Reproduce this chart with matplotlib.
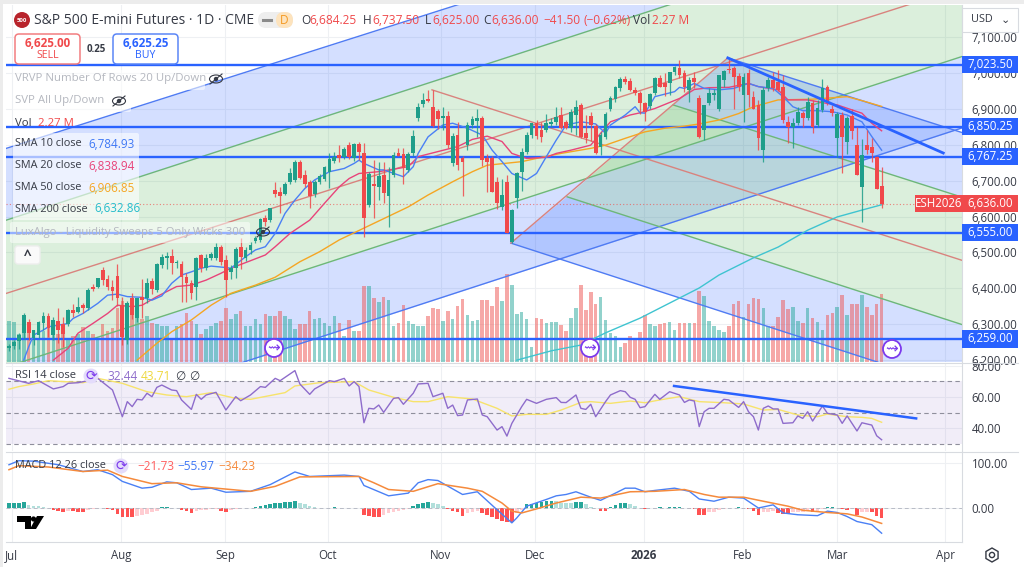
#!/usr/bin/env python

import matplotlib

matplotlib.use("Agg")
import matplotlib.pyplot as plt
from matplotlib.patches import Circle, Ellipse, FancyBboxPatch, Polygon, Rectangle, RegularPolygon

plt.rcParams["font.family"] = ["Open Sans", "DejaVu Sans"]

# candles, one value per daily bar
opens = [
    6235, 6240, 6252, 6275, 6307, 6261, 6270, 6304, 6323, 6270,
    6309, 6302, 6301, 6341, 6335, 6353, 6344, 6405, 6405, 6451,
    6425, 6405, 6435, 6354, 6256, 6372, 6316, 6377, 6372, 6421,
    6395, 6465, 6485, 6490, 6471, 6468, 6432, 6414, 6405, 6493,
    6456, 6484, 6484, 6516, 6478, 6446, 6458, 6514, 6484, 6507,
    6533, 6535, 6597, 6590, 6674, 6669, 6664, 6697, 6702, 6751,
    6716, 6697, 6662, 6697, 6706, 6725, 6755, 6771, 6767, 6799,
    6764, 6801, 6778, 6632, 6691, 6681, 6716, 6658, 6716, 6778,
    6774, 6730, 6776, 6874, 6913, 6927, 6906, 6895, 6875, 6881,
    6748, 6827, 6764, 6799, 6855, 6865, 6874, 6762, 6762, 6695,
    6627, 6697, 6530, 6651, 6725, 6781, 6827, 6860, 6841, 6841,
    6858, 6864, 6883, 6864, 6846, 6883, 6911, 6832, 6881, 6852,
    6795, 6822, 6901, 6927, 6957, 6983, 6979, 6953, 6945, 6915,
    6908, 6943, 6985, 6971, 6971, 7004, 7013, 6999, 6953, 6985,
    6931, 6841, 6915, 6939, 6901, 6980, 7010, 7013, 6992, 6939,
    7000, 6934, 6911, 6785, 6957, 6981, 6976, 6962, 6864, 6849,
    6860, 6888, 6874, 6915, 6855, 6897, 6962, 6899, 6818, 6883,
    6809, 6880, 6799, 6683, 6799, 6795, 6767, 6684.25,
]
highs = [
    6245, 6255, 6275, 6330, 6315, 6285, 6310, 6335, 6330, 6320,
    6344, 6320, 6342, 6356, 6375, 6358, 6400, 6412, 6430, 6459,
    6437, 6423, 6468, 6375, 6365, 6386, 6374, 6425, 6428, 6428,
    6470, 6497, 6502, 6509, 6479, 6477, 6442, 6423, 6486, 6497,
    6497, 6502, 6525, 6520, 6492, 6465, 6515, 6540, 6515, 6530,
    6545, 6595, 6605, 6625, 6697, 6683, 6695, 6734, 6757, 6757,
    6730, 6702, 6702, 6718, 6740, 6776, 6781, 6799, 6795, 6809,
    6805, 6809, 6804, 6725, 6757, 6753, 6753, 6739, 6781, 6790,
    6790, 6781, 6841, 6915, 6943, 6953, 6953, 6900, 6905, 6895,
    6832, 6864, 6770, 6864, 6880, 6899, 6880, 6775, 6770, 6710,
    6706, 6715, 6620, 6725, 6790, 6835, 6862, 6868, 6864, 6885,
    6875, 6906, 6906, 6870, 6900, 6925, 6915, 6883, 6890, 6858,
    6835, 6890, 6935, 6965, 6990, 6992, 6985, 6960, 6950, 6920,
    6945, 6988, 6995, 7000, 7004, 7020, 7036, 7008, 6990, 7004,
    6940, 6911, 6957, 6955, 6994, 7008, 7041, 7020, 7000, 7001,
    7010, 6950, 6925, 6960, 6990, 7004, 7008, 6995, 6880, 6875,
    6906, 6895, 6934, 6925, 6925, 6982, 6967, 6911, 6890, 6892,
    6880, 6899, 6849, 6815, 6841, 6820, 6770, 6737.5,
]
lows = [
    6225, 6230, 6230, 6260, 6255, 6242, 6262, 6285, 6265, 6256,
    6247, 6237, 6295, 6320, 6332, 6330, 6340, 6393, 6402, 6410,
    6395, 6367, 6350, 6242, 6245, 6315, 6305, 6316, 6360, 6385,
    6390, 6456, 6453, 6440, 6456, 6363, 6363, 6370, 6367, 6445,
    6450, 6478, 6478, 6465, 6377, 6425, 6430, 6455, 6475, 6495,
    6525, 6530, 6575, 6585, 6655, 6611, 6660, 6690, 6697, 6705,
    6683, 6625, 6655, 6690, 6700, 6680, 6750, 6753, 6760, 6760,
    6755, 6758, 6544, 6628, 6595, 6646, 6637, 6572, 6710, 6768,
    6692, 6725, 6770, 6866, 6905, 6918, 6850, 6845, 6840, 6790,
    6740, 6730, 6657, 6785, 6848, 6822, 6740, 6669, 6669, 6620,
    6618, 6553, 6525, 6625, 6672, 6775, 6820, 6815, 6808, 6835,
    6850, 6855, 6845, 6845, 6835, 6828, 6818, 6805, 6810, 6775,
    6772, 6815, 6895, 6920, 6950, 6970, 6950, 6940, 6885, 6865,
    6900, 6938, 6960, 6935, 6940, 6995, 6985, 6948, 6920, 6957,
    6820, 6813, 6910, 6925, 6895, 6960, 7000, 6901, 6950, 6864,
    6905, 6900, 6785, 6753, 6950, 6950, 6950, 6860, 6805, 6790,
    6855, 6849, 6870, 6832, 6850, 6890, 6910, 6880, 6767, 6720,
    6775, 6815, 6716, 6586, 6775, 6753, 6676, 6625,
]
closes = [
    6240, 6250, 6270, 6326, 6275, 6284, 6307, 6323, 6289, 6312,
    6284, 6273, 6341, 6332, 6347, 6344, 6395, 6397, 6428, 6423,
    6405, 6393, 6372, 6265, 6358, 6326, 6372, 6367, 6414, 6397,
    6468, 6488, 6491, 6470, 6474, 6432, 6414, 6386, 6484, 6456,
    6484, 6497, 6516, 6474, 6423, 6458, 6511, 6488, 6507, 6521,
    6539, 6592, 6586, 6623, 6664, 6658, 6692, 6722, 6753, 6708,
    6690, 6658, 6697, 6714, 6737, 6760, 6767, 6762, 6787, 6767,
    6801, 6781, 6595, 6718, 6686, 6713, 6666, 6702, 6771, 6770,
    6734, 6773, 6825, 6906, 6925, 6923, 6852, 6872, 6881, 6799,
    6825, 6743, 6753, 6855, 6871, 6874, 6757, 6753, 6669, 6637,
    6660, 6553, 6618, 6720, 6781, 6827, 6860, 6825, 6822, 6860,
    6864, 6878, 6846, 6846, 6890, 6906, 6822, 6818, 6855, 6776,
    6827, 6887, 6929, 6960, 6983, 6974, 6953, 6943, 6915, 6892,
    6941, 6985, 6962, 6960, 7004, 7016, 6994, 6962, 6980, 6974,
    6822, 6911, 6943, 6945, 6994, 7006, 7008, 6990, 6962, 6990,
    6939, 6901, 6818, 6953, 6981, 6957, 6953, 6869, 6849, 6860,
    6892, 6874, 6920, 6849, 6902, 6957, 6915, 6888, 6886, 6823,
    6874, 6837, 6716, 6771, 6785, 6778, 6677.5, 6636,
]
volume_m = [
    1.37, 1.34, .92, 1.54, .98, .92, .81, 1.04, 1.31, 1.26,
    .92, .98, .81, .87, .92, 1.17, 1.04, .95, .81, 1.26,
    1.04, 1.15, 1.81, 2.04, 1.93, 1.93, 1.48, 1.42, 1.54, 1.31,
    1.26, 1.20, 1.20, .81, 1.20, 1.26, 1.65, 1.37, 1.26, .92,
    1.09, 1.20, 1.31, 1.37, 1.81, 1.42, 1.59, 1.70, 1.20, 1.20,
    1.42, 1.26, 1.59, 1.54, 1.54, 1.70, 1.54, 1.42, 1.09, 1.26,
    1.26, 1.70, 1.42, 1.48, 1.31, 1.20, 1.54, 1.31,
    .86, 1.41, 1.05, 1.05, 2.55, 2.55, 2.14, 2.00, 2.17, 2.06,
    1.21, 1.30, 1.89, 1.36, 1.27, 1.19, 1.21, 1.52, 1.80, 1.77,
    1.36, 1.69, 1.45, 1.86, 2.10, 1.58, 1.36, 1.39, 2.08, 2.08,
    1.86, 2.49, 2.05, 2.95, 2.58, 1.60, 1.66, 1.45, .49, 1.47,
    1.45, 1.30, 1.32, 1.34, 1.25, 1.02, 1.47, 1.80, 2.58, 1.75,
    2.33, 1.94, 2.16, 1.40, .97, .88, .49, .63, .88, .78,
    .99, 1.56, 1.27, 1.19, 1.27, 1.30, 1.34, 1.07, 1.30,
    1.30, 1.30, 1.30, 2.38, 2.19, 1.36, 1.21, 1.08, .99, 1.19,
    1.94, 2.05, 1.49, 1.94, 2.14, 2.10, 1.80, 1.19, 1.19, 1.49,
    2.07, 1.78, 1.83, 1.36, 1.30, 1.80, 1.47, 1.34, 1.08, 1.56,
    1.64, 1.84, 2.25, 1.56, 1.95, 1.95, 2.25, 1.83, 1.56, 1.94, 2.27,
]
macd_hist = [
    11, 11, 12, 13, 7, 5, 4, 2, 1, -4,
    -7, -8, -6, -7, -8, -8, -5, -3, -2, -1,
    -3, -5, -14, -20, -21, -21, -17, -15, -13, -10,
    -6, 2, 3, 1, -1, -4, -7, -11, -6, -5,
    -4, -3, -2, -7, -9, -4, -3, -2, -1, 1,
    3, 5, 6, 8, 10, 12, 13, 14, 15, 12,
    9, 5, 2, 1, 1, 1, 2, 1, 1, 1,
    1, -1, -15, -18, -19, -20, -15, -11, -8, -7,
    -5, -2, 4, 8, 12, 13, 10, 8, 5, -3,
    -7, -10, -17, -11, -8, -6, -12, -15, -19, -24,
    -28, -31, -32, -12, -4, 8, 9, 11, 14, 15,
    16, 15, 12, 11, 10, 14, 14, 8, 2, 1,
    -6, -6, 3, 7, 10, 11, 9, 4, 1, -2,
    -1, 1, 2, 1, 2, 3, 3, 1, -2, -3,
    -15, -15, -10, -8, -5, -2, -1, 1, 2, -2,
    -3, -6, -16, -10, -9, -7, -11, -13, -14, -10,
    -9, -8, -5, -10, -6, -3, 2, 2, -1, -3,
    -5, -2, -15, -10, -8, -8, -18, -21.73,
]
assert all(len(s) == 178 for s in (opens, highs, lows, closes, volume_m, macd_hist))

# moving averages, read at the bends of each line
sma10_bar = [3, 4, 5, 7, 8, 12, 13, 15, 18, 20, 22, 24, 27, 29, 31, 33, 35, 37, 39, 41, 44, 45, 48, 50, 52, 54, 56,
             58, 60, 62, 65, 68, 70, 71, 72, 75, 76, 80, 82, 83, 85, 88, 90, 93, 96, 98, 100, 102, 105, 107, 109,
             111, 113, 116, 119, 121, 122, 125, 127, 128, 129, 131, 135, 136, 137, 139, 141, 144, 147, 150, 152,
             155, 157, 159, 161, 164, 167, 170, 173, 175, 177]
sma10_val = [6200, 6237, 6270, 6284, 6293, 6302, 6316, 6330, 6358, 6381, 6384, 6377, 6375, 6367, 6379, 6414, 6437,
             6446, 6456, 6462, 6458, 6456, 6488, 6507, 6516, 6553, 6609, 6646, 6678, 6702, 6725, 6734, 6748, 6757,
             6748, 6730, 6730, 6711, 6739, 6776, 6822, 6855, 6860, 6846, 6827, 6785, 6753, 6720, 6702, 6720, 6767,
             6813, 6855, 6864, 6858, 6832, 6855, 6883, 6906, 6889, 6888, 6934, 6948, 6960, 6957, 6971, 6957, 6953,
             6957, 6971, 6962, 6957, 6934, 6906, 6895, 6895, 6892, 6883, 6864, 6823, 6784.93]
sma20_bar = [9, 12, 14, 17, 20, 22, 25, 27, 30, 34, 37, 40, 43, 45, 49, 52, 54, 57, 61, 64, 67, 69, 71, 75, 81, 83,
             87, 91, 94, 97, 100, 102, 105, 109, 111, 114, 118, 120, 122, 126, 128, 131, 136, 139, 142, 146, 150,
             152, 156, 158, 162, 166, 168, 171, 173, 175, 177]
sma20_val = [6200, 6233, 6275, 6302, 6330, 6353, 6349, 6353, 6377, 6405, 6409, 6423, 6442, 6456, 6477, 6493, 6516,
             6553, 6590, 6637, 6683, 6706, 6720, 6725, 6739, 6767, 6781, 6795, 6815, 6824, 6809, 6776, 6762, 6765,
             6776, 6785, 6799, 6832, 6864, 6883, 6889, 6901, 6929, 6954, 6959, 6960, 6971, 6962, 6953, 6925, 6925,
             6915, 6911, 6897, 6888, 6860, 6838.94]
sma50_bar = [26, 30, 33, 37, 41, 45, 50, 54, 59, 63, 67, 74, 81, 85, 90, 94, 97, 104, 108, 112, 118, 121, 125, 129,
             133, 137, 140, 144, 148, 151, 156, 163, 170, 173, 177]
sma50_val = [6200, 6247, 6279, 6312, 6353, 6386, 6409, 6431, 6474, 6502, 6535, 6581, 6627, 6660, 6697, 6725, 6743,
             6753, 6765, 6776, 6790, 6799, 6818, 6836, 6846, 6852, 6858, 6869, 6887, 6906, 6925, 6927, 6934, 6923,
             6906.85]
sma200_bar = [103, 110, 116, 121, 128, 136, 140, 144, 151, 156, 162, 168, 173, 177]
sma200_val = [6200, 6226, 6242, 6276, 6317, 6373, 6401, 6437, 6485, 6515, 6562, 6599, 6618, 6632.86]

# RSI pane
rsi_bar = [0, 4, 6, 9, 11, 12, 14, 16, 18, 21, 23, 24, 25, 26, 27, 28, 29, 30, 31, 33, 34, 35, 37, 38, 39, 40, 42,
           44, 46, 47, 49, 51, 52, 54, 55, 58, 59, 61, 62, 65, 66, 68, 69, 70, 71, 72, 73, 74, 75, 76, 78, 79, 80,
           82, 83, 85, 86, 88, 89, 90, 91, 92, 93, 95, 96, 97, 99, 100, 101, 102, 104, 105, 107, 109, 111, 112,
           113, 115, 116, 117, 118, 119, 121, 122, 124, 125, 126, 127, 128, 129, 131, 132, 134, 136, 137, 138,
           139, 140, 141, 142, 143, 145, 146, 148, 149, 150, 151, 152, 153, 154, 155, 156, 157, 159, 160, 161,
           162, 163, 165, 166, 168, 169, 170, 172, 173, 175, 176, 177]
rsi_val = [72.0, 68.8, 70.5, 65.2, 66.7, 68.8, 69.2, 70.5, 72.0, 64.5, 47.3, 57.0, 53.8, 58.5, 58.1, 62.4, 60.2,
           66.2, 67.7, 64.5, 64.1, 58.1, 52.0, 61.7, 58.5, 61.3, 63.0, 51.6, 60.2, 57.6, 61.3, 66.7, 66.2, 72.0,
           70.5, 77.0, 68.4, 61.7, 65.2, 70.5, 69.9, 72.0, 67.1, 69.9, 66.7, 43.4, 52.7, 52.3, 54.8, 50.1, 59.1,
           59.6, 55.3, 62.4, 68.4, 68.8, 60.2, 62.4, 52.7, 54.8, 48.0, 48.4, 58.1, 58.7, 48.4, 47.3, 38.7, 40.9,
           34.8, 43.0, 53.8, 58.5, 55.9, 58.5, 59.6, 56.5, 56.4, 61.3, 52.7, 52.0, 55.3, 47.3, 57.0, 61.3, 64.1,
           63.4, 59.8, 58.5, 53.1, 53.8, 61.7, 58.5, 63.4, 61.3, 56.5, 58.1, 57.4, 40.9, 50.5, 52.7, 52.7, 58.5,
           58.1, 53.3, 57.0, 50.5, 47.3, 38.7, 52.7, 54.2, 52.3, 52.3, 43.0, 43.4, 47.8, 46.2, 50.5, 44.5, 54.2,
           49.5, 48.4, 43.0, 47.8, 38.1, 43.4, 41.9, 35.0, 32.44]
rsi_ma_bar = [0, 2, 5, 8, 15, 18, 23, 28, 32, 36, 41, 46, 49, 56, 58, 63, 70, 73, 78, 82, 85, 89, 94, 99, 102, 105,
              109, 112, 116, 118, 122, 126, 129, 132, 136, 140, 145, 149, 153, 156, 160, 164, 166, 170, 173, 175, 177]
rsi_ma_val = [65.0, 66.7, 68.4, 70.5, 69.2, 72.0, 68.8, 63.4, 61.3, 60.2, 62.8, 59.1, 58.5, 62.8, 67.1, 69.2, 69.9,
              64.5, 59.8, 57.0, 57.0, 60.2, 58.7, 52.7, 47.8, 48.8, 48.8, 51.6, 56.5, 57.0, 55.9, 57.4, 56.3, 58.1,
              60.2, 57.0, 56.3, 55.5, 51.6, 52.0, 48.4, 47.3, 49.0, 47.3, 46.9, 46.2, 43.71]
rsi_levels = [70, 50, 30]

# MACD pane
macd_bar = [0, 2, 5, 10, 15, 18, 21, 23, 27, 29, 32, 34, 37, 41, 44, 49, 53, 58, 61, 68, 71, 72, 77, 81, 83, 85, 87,
            92, 95, 99, 102, 103, 105, 109, 111, 113, 115, 118, 120, 123, 125, 127, 129, 131, 135, 138, 140, 143,
            146, 149, 152, 155, 157, 160, 164, 166, 168, 170, 172, 175, 177]
macd_val = [96, 105, 104, 96, 81, 85, 74, 59, 44, 46, 58, 56, 41, 44, 35, 37, 52, 80, 70, 73, 70, 50, 27, 33, 56,
            63, 61, 30, 36, -4, -33, -22, 4, 19, 27, 30, 36, 24, 17, 33, 44, 44, 36, 39, 44, 37, 20, 15, 24, 22, 0,
            7, -11, -15, -17, -7, -10, -19, -30, -37, -55.97]
signal_bar = [0, 2, 8, 15, 20, 23, 29, 34, 39, 44, 49, 54, 59, 71, 74, 77, 82, 87, 93, 96, 100, 102, 104, 107, 111,
              116, 120, 126, 131, 137, 141, 144, 149, 153, 158, 161, 166, 170, 173, 177]
signal_val = [85, 94, 91, 81, 84, 70, 54, 56, 47, 42, 37, 48, 69, 70, 56, 41, 37, 54, 44, 37, 11, -7, -11, -2, 11,
              24, 22, 36, 37, 41, 30, 24, 24, 15, 4, -5, -10, -13, -20, -34.23]

# drawn levels and tools
level_prices = [7023.50, 6850.25, 6767.25, 6555.00, 6259.00]
last_price = 6636.00
price_ticks = [7100, 7000, 6900, 6800, 6700, 6600, 6500, 6400, 6300, 6200]
month_bars = [0.6, 22.7, 43.8, 64.7, 87.6, 106.7, 128.8, 148.9, 168, 189.9]
month_names = ["Jul", "Aug", "Sep", "Oct", "Nov", "Dec", "2026", "Feb", "Mar", "Apr"]

fork_ends = [-1, 194]
up_blue_hi = [6788, 7640]
up_green_hi = [6588, 7458]
up_red = [6384, 7241]
up_green_lo = [6179, 7049]
up_blue_lo = [5977, 6850]

down_end = 194
down_blue_hi = [145.8, 7042, 6831]
down_green_hi = [134.7, 6911, 6651]
down_red = [85.8, 6953, 6475]
down_green_lo = [113.2, 6655, 6296]
down_blue_lo = [101.8, 6526, 6115]
trend_bars = [145.8, 189.5]
trend_vals = [7042, 6777]
rsi_trend_bars = [134.9, 184]
rsi_trend_vals = [67.1, 46.2]

RED = "#f0494b"
GREEN = "#1f9e8a"
BLUE = "#2962ff"
W, H = 1024, 567

fig = plt.figure(figsize=(W / 100, H / 100), dpi=100, facecolor="white")


def pane(top, bottom):
    return fig.add_axes([6 / W, 1 - bottom / H, (962 - 6) / W, (bottom - top) / H])


ax = pane(5, 362)
ax_rsi = pane(363, 451)
ax_macd = pane(452, 542)
bars = list(range(len(closes)))

for a in (ax, ax_rsi, ax_macd):
    a.set_xlim(-0.6, 193.3)
    a.set_xticks(month_bars)
    a.grid(True, color="#eef0f3", lw=0.8)
    a.set_axisbelow(True)
    a.yaxis.tick_right()
    a.tick_params(length=0, labelsize=8.3, labelcolor="#363a45", pad=7)
    a.tick_params(axis="x", labelbottom=False)
    for s in a.spines.values():
        s.set_visible(False)
    a.spines["right"].set_visible(True)
    a.spines["right"].set_color("#d8dbe0")

# up fork
ax.fill_between(fork_ends, up_green_hi, up_blue_hi, color=BLUE, alpha=0.2, lw=0)
ax.fill_between(fork_ends, up_green_lo, up_green_hi, color="#4caf50", alpha=0.2, lw=0)
ax.fill_between(fork_ends, up_blue_lo, up_green_lo, color=BLUE, alpha=0.2, lw=0)
ax.plot(fork_ends, up_blue_hi, color="#4f7bf3", lw=1.0)
ax.plot(fork_ends, up_green_hi, color="#6db77a", lw=1.0)
ax.plot(fork_ends, up_red, color="#d9837e", lw=1.0)
ax.plot(fork_ends, up_green_lo, color="#6db77a", lw=1.0)
ax.plot(fork_ends, up_blue_lo, color="#4f7bf3", lw=1.0)


def corners(a, b, color):
    ax.add_patch(Polygon([(a[0], a[1]), (down_end, a[2]), (down_end, b[2]), (b[0], b[1])],
                         facecolor=color, alpha=0.2, lw=0))


# down fork
corners(down_blue_hi, down_green_hi, BLUE)
corners(down_green_hi, down_green_lo, "#4caf50")
corners(down_green_lo, down_blue_lo, BLUE)
for line, c in ((down_blue_hi, "#4f7bf3"), (down_green_hi, "#6db77a"), (down_red, "#d9837e"),
                (down_green_lo, "#6db77a"), (down_blue_lo, "#4f7bf3")):
    ax.plot([line[0], down_end], line[1:], color=c, lw=1.0)
ax.plot([down_blue_lo[0], down_blue_hi[0]], [down_blue_lo[1], down_blue_hi[1]], color="#d9837e", lw=1.0)

# volume sits at the foot of the price pane
VOL_SCALE = 83.4
ax_bottom = 6194.8
vol_colors = ["#26a69a" if c >= o else "#ef5350" for o, c in zip(opens, closes)]
ax.bar(bars, [v * VOL_SCALE for v in volume_m], bottom=ax_bottom, width=0.72, color=vol_colors, alpha=0.5, lw=0)

for p in level_prices:
    ax.axhline(p, color=BLUE, lw=1.7, zorder=3)
ax.axhline(last_price, color="#ef5350", lw=0.8, ls=(0, (1, 2)), alpha=0.7, zorder=3)

# moving averages
ax.plot(sma200_bar, sma200_val, color="#3fc4d0", lw=1.0, zorder=4)
ax.plot(sma50_bar, sma50_val, color="#f5a623", lw=1.0, zorder=4)
ax.plot(sma20_bar, sma20_val, color="#e8447a", lw=1.0, zorder=4)
ax.plot(sma10_bar, sma10_val, color="#4a80f5", lw=1.0, zorder=4)

# candles
candle_colors = [GREEN if c >= o else RED for o, c in zip(opens, closes)]
ax.vlines(bars, lows, highs, colors=candle_colors, lw=0.9, alpha=0.85, zorder=5)
ax.bar(bars, [max(abs(c - o), 2) for o, c in zip(opens, closes)], bottom=[min(o, c) for o, c in zip(opens, closes)],
       width=0.76, color=candle_colors, lw=0, zorder=5)

ax.plot(trend_bars, trend_vals, color=BLUE, lw=2.0, zorder=6)

ax.set_ylim(6194.8, 7189.4)
ax.set_yticks(price_ticks)
ax.set_yticklabels([f"{p:,.2f}" for p in price_ticks])


def price_tag(p, s, x0, x1, color):
    # x0 and x1 in axes fractions, box about 17 px tall
    ax.add_patch(Rectangle((x0, p - 24), x1 - x0, 48, transform=ax.get_yaxis_transform(), fc=color, ec="none",
                           zorder=11, clip_on=False))
    ax.text((x0 + x1) / 2, p, s, transform=ax.get_yaxis_transform(), color="white", fontsize=8.3, va="center",
            ha="center", zorder=12, clip_on=False)


for p in level_prices:
    price_tag(p, f"{p:,.2f}", 1.0, 1.0586, BLUE)
price_tag(last_price, f"{last_price:,.2f}", 1.0, 1.0586, RED)
price_tag(last_price, "ESH2026", 0.951, 0.9995, RED)

# RSI
ax_rsi.axhspan(30, 70, color="#7e57c2", alpha=0.1, lw=0)
for lv in rsi_levels:
    ax_rsi.axhline(lv, color="#8f8f9c", lw=0.8, ls=(0, (4, 3)))
ax_rsi.plot(rsi_ma_bar, rsi_ma_val, color="#f7e36b", lw=1.0)
ax_rsi.plot(rsi_bar, rsi_val, color="#8e6ccb", lw=1.0)
ax_rsi.plot(rsi_trend_bars, rsi_trend_vals, color=BLUE, lw=1.8)
ax_rsi.set_ylim(25.2, 81.9)
ax_rsi.set_yticks([80, 60, 40])
ax_rsi.set_yticklabels(["80.00", "60.00", "40.00"])

# MACD
hist_colors = []
for k, v in enumerate(macd_hist):
    prev = macd_hist[k - 1] if k else v
    if v >= 0:
        hist_colors.append("#26a69a" if v >= prev else "#b2dfdb")
    else:
        hist_colors.append("#ff5252" if v <= prev else "#ffcdd2")
ax_macd.bar(bars, macd_hist, width=0.72, color=hist_colors, lw=0)
ax_macd.axhline(0, color="#b8bcc6", lw=0.7, ls=(0, (4, 3)), zorder=1)
ax_macd.plot(macd_bar, macd_val, color="#4a80f5", lw=1.0)
ax_macd.plot(signal_bar, signal_val, color="#f58a3c", lw=1.1)
ax_macd.set_ylim(-75.5, 124.3)
ax_macd.set_yticks([100, 0])
ax_macd.set_yticklabels(["100.00", "0.00"])

ax_macd.tick_params(axis="x", labelbottom=True, pad=5, labelsize=8.3)
ax_macd.set_xticklabels(month_names)
ax_macd.spines["bottom"].set_visible(True)
ax_macd.spines["bottom"].set_color("#d8dbe0")
for lab in ax_macd.get_xticklabels():
    if lab.get_text() == "2026":
        lab.set_fontweight("bold")

# chrome in pixel coordinates
ui = fig.add_axes([0, 0, 1, 1], zorder=20)
ui.set_xlim(0, W)
ui.set_ylim(H, 0)
ui.axis("off")
ui.patch.set_alpha(0)


def label(x, y, s, color="#363a45", size=8.6, **kw):
    kw.setdefault("va", "center")
    ui.text(x, y, s, color=color, fontsize=size, **kw)


def rbox(x0, y0, x1, y1, fc="white", ec="none", alpha=1.0, lw=1.0, r=3):
    ui.add_patch(FancyBboxPatch((x0, y0), x1 - x0, y1 - y0, boxstyle=f"round,pad=0,rounding_size={r}",
                                fc=fc, ec=ec, alpha=alpha, lw=lw))


def eye(x, y):
    ui.add_patch(Ellipse((x, y), 13, 8, fc="none", ec="#363a45", lw=0.8))
    ui.add_patch(Circle((x, y), 2.2, fc="#363a45", ec="none"))
    ui.plot([x - 6, x + 6], [y + 5, y - 5], color="#363a45", lw=0.8)


def jump(x, y):
    ui.add_patch(Circle((x, y), 9, fc="white", ec="#7c3aed", lw=1.3))
    label(x, y, "⇝", color="#7c3aed", size=11, ha="center", family="DejaVu Sans")


def sync(x, y):
    ui.add_patch(Circle((x, y), 7.5, fc="#e4dcfb", ec="none"))
    label(x, y, "⟳", color="#7c3aed", size=10, ha="center", family="DejaVu Sans")


ui.add_patch(Rectangle((0, 0), W, 4, fc="#ececec", ec="none"))
ui.add_patch(Rectangle((0, 0), 3, H, fc="#ececec", ec="none"))
ui.plot([6, 1018], [362.5, 362.5], color="#d8dbe0", lw=0.8)
ui.plot([6, 1018], [451.5, 451.5], color="#d8dbe0", lw=0.8)

# title row
ui.add_patch(Circle((22, 20), 8, fc="#b8242c", ec="none"))
label(22, 20, "500", color="white", size=4.3, ha="center", fontweight="bold")
label(34, 20, "S&P 500 E-mini Futures · 1D · CME", size=10)
rbox(258, 12, 293, 28, fc="#eeeeee", r=8)
rbox(276, 12, 293, 28, fc="#fde3bd", r=8)
ui.plot([263, 271], [20, 20], color="#8a8a8a", lw=2.2)
label(284, 20, "D", color="#f59a23", size=8.6, ha="center")
for x, s, c in ((301, "O", "#363a45"), (309, "6,684.25", RED), (363, "H", "#363a45"), (372, "6,737.50", RED),
                (425, "L", "#363a45"), (432, "6,625.00", RED), (483, "C", "#363a45"), (491, "6,636.00", RED),
                (543, "−41.50", RED), (584, "(−0.62%)", RED), (633, "Vol", "#363a45"), (652, "2.27 M", RED)):
    label(x, 20, s, color=c, size=8.6)

# buy and sell
rbox(15, 34, 80, 64, fc="white", ec="#f27d80", lw=1.1, r=4)
label(47.5, 43.5, "6,625.00", color=RED, size=8.4, ha="center", fontweight="bold")
label(47.5, 56, "SELL", color=RED, size=7.6, ha="center")
label(96, 49.5, "0.25", size=7, ha="center", fontweight="bold")
rbox(113, 34, 178, 64, fc="white", ec="#5b86f7", lw=1.1, r=4)
label(145.5, 43.5, "6,625.25", color=BLUE, size=8.4, ha="center", fontweight="bold")
label(145.5, 56, "BUY", color=BLUE, size=7.6, ha="center")

# legend rows
rbox(13, 70, 205, 90, alpha=0.55, r=2)
rbox(13, 91, 131, 112, alpha=0.55, r=2)
rbox(13, 133, 139, 220, alpha=0.6, r=2)
rbox(10, 222, 250, 243, alpha=0.5, r=2)
label(15, 79, "VRVP Number Of Rows 20 Up/Down", color="#b4b7bf", size=8.2)
eye(216, 79)
label(15, 101, "SVP All Up/Down", color="#b4b7bf", size=8.2)
eye(119, 101)
label(15, 123, "Vol", size=8.2)
label(38, 123, "2.27 M", color=RED, size=8.2)
for y, n, v, c in ((144, "SMA 10 close", "6,784.93", "#3f78f5"), (166, "SMA 20 close", "6,838.94", "#e8447a"),
                   (188, "SMA 50 close", "6,906.85", "#f5a623"), (209, "SMA 200 close", "6,632.86", "#25bccb")):
    label(15, y, n, size=7.8)
    label(88 if n != "SMA 200 close" else 94, y, v, color=c, size=8.4)
label(15, 232, "LuxAlgo - Liquidity Sweeps 5 Only Wicks 300", color="#b4b7bf", size=8.1)
eye(263, 232)
rbox(15, 246, 40, 264, fc="#fafafa", ec="#eeeeee", r=3)
label(27.5, 256, "^", size=10, ha="center", fontweight="bold")

jump(274, 348)
jump(590, 348)
jump(892, 349)

# price scale header
label(971, 20, "USD", size=7.8)
label(1005, 20, "⌄", size=8, ha="center", family="DejaVu Sans")
ui.add_patch(Rectangle((962, 8), 56, 24, fc="none", ec="#d8dbe0", lw=0.8))

# RSI and MACD legends
label(15, 376, "RSI 14 close", size=8.0)
sync(91, 376)
label(107, 376, "32.44", color="#8e6ccb", size=8.6)
label(141, 376, "43.71", color="#efd83e", size=8.6)
label(175, 376, "∅", size=8.6, family="DejaVu Sans")
label(189, 376, "∅", size=8.6, family="DejaVu Sans")
label(15, 466, "MACD 12 26 close", size=7.8)
sync(121, 466)
label(137, 466, "−21.73", color="#ff5f5f", size=8.6)
label(177, 466, "−55.97", color="#3f78f5", size=8.6)
label(218, 466, "−34.23", color="#f58a3c", size=8.6)

# logo
ui.add_patch(Polygon([(17, 516), (31, 516), (31, 529), (25, 529), (25, 522), (17, 522)], fc="black", ec="none"))
ui.add_patch(Circle((33.5, 519), 2.6, fc="black", ec="none"))
ui.add_patch(Polygon([(37, 516), (44, 516), (36, 529), (30, 529)], fc="black", ec="none"))

# settings gear
ui.add_patch(RegularPolygon((992, 555), 6, radius=7, fc="none", ec="#363a45", lw=1))
ui.add_patch(Circle((992, 555), 2.6, fc="none", ec="#363a45", lw=1))

fig.savefig("out.png", dpi=100)
